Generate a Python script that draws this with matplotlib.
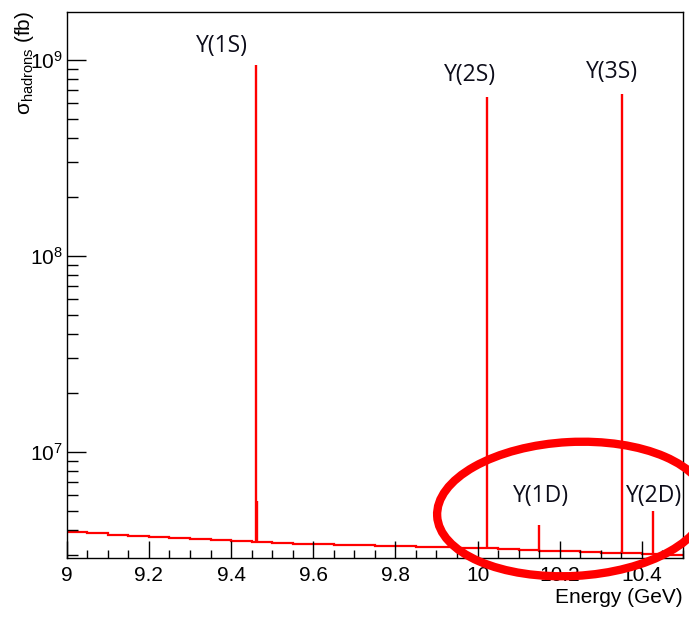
import numpy as np
import matplotlib
matplotlib.use("Agg")
import matplotlib.pyplot as plt
from matplotlib.patches import Ellipse
from matplotlib.ticker import FixedLocator, FixedFormatter, LogLocator, NullFormatter

# Hadronic continuum, binned in energy (GeV); values in fb
bin_edges = np.round(np.arange(9.0, 10.5001, 0.05), 3)
continuum = np.array([3.89, 3.85, 3.79, 3.74, 3.69, 3.64, 3.60, 3.56, 3.52, 3.47,
                      3.43, 3.41, 3.38, 3.36, 3.34, 3.32, 3.30, 3.28, 3.26, 3.25,
                      3.22, 3.19, 3.17, 3.14, 3.11, 3.08, 3.06, 3.04, 3.02, 3.00]) * 1e6

# Bottomonium resonances: mass (GeV) and peak cross section (fb)
res_names = ["Υ(1S)", "Υ(2S)", "Υ(3S)", "Υ(1D)", "Υ(2D)"]
res_mass = [9.460, 10.022, 10.352, 10.150, 10.428]
res_peak = [9.4e8, 6.5e8, 6.7e8, 4.25e6, 5.0e6]
# shoulder next to the Υ(1S) peak bin
shoulder_mass = 9.4625
shoulder_peak = 5.6e6

xticks = [9.0, 9.2, 9.4, 9.6, 9.8, 10.0, 10.2, 10.4]
xtick_labels = ["9", "9.2", "9.4", "9.6", "9.8", "10", "10.2", "10.4"]

W, H = 689, 619
fig = plt.figure(figsize=(W / 100, H / 100), dpi=100)
ax = fig.add_axes([66.7 / W, 1 - 557.7 / H, (683 - 66.7) / W, (557.7 - 11.7) / H])

red = "#ff0000"
ax.stairs(continuum, bin_edges, color=red, lw=1.6, baseline=None)


def base_at(m):
    i = np.searchsorted(bin_edges, m) - 1
    return continuum[i]


for m, p in zip(res_mass, res_peak):
    ax.vlines(m, base_at(m), p, color=red, lw=1.7)
ax.vlines(shoulder_mass, base_at(shoulder_mass), shoulder_peak, color=red, lw=1.7)

ax.set_yscale("log")
ax.set_xlim(9.0, 10.5)
ax.set_ylim(2.89e6, 1.76e9)

ax.xaxis.set_major_locator(FixedLocator(xticks))
ax.xaxis.set_major_formatter(FixedFormatter(xtick_labels))
ax.xaxis.set_minor_locator(FixedLocator(np.round(np.arange(9.0, 10.5001, 0.05), 3)))
ax.yaxis.set_major_locator(LogLocator(base=10, numticks=10))
ax.yaxis.set_minor_locator(LogLocator(base=10, subs=np.arange(2, 10), numticks=20))
ax.yaxis.set_minor_formatter(NullFormatter())

tick_font = "Liberation Sans"
ax.tick_params(axis="both", which="both", direction="in", top=False, right=False,
               color="black", width=1.0)
ax.tick_params(axis="x", which="major", length=12, pad=6)
ax.tick_params(axis="x", which="minor", length=6)
ax.tick_params(axis="y", which="major", length=14, pad=3)
ax.tick_params(axis="y", which="minor", length=8)
ax.yaxis.set_major_formatter(plt.FuncFormatter(lambda v, pos: r"$\mathregular{10^{%d}}$" % round(np.log10(v))))
for lab in ax.get_xticklabels() + ax.get_yticklabels():
    lab.set_fontfamily(tick_font)
    lab.set_fontsize(15)
plt.setp(ax.get_xticklabels(), fontfamily=tick_font, fontsize=15)
plt.setp(ax.get_yticklabels(), fontfamily=tick_font, fontsize=15)

for s in ax.spines.values():
    s.set_linewidth(1.0)
    s.set_color("black")

ax.set_xlabel("Energy (GeV)", fontfamily=tick_font, fontsize=15, loc="right", labelpad=2)
fig.text(24 / W, 1 - 11 / H, r"$\mathregular{\sigma_{hadrons}}$ (fb)", rotation=90,
         ha="center", va="top", fontfamily=tick_font, fontsize=15)

# Resonance labels
label_pos = [(222, 46), (470, 75), (612, 72), (541, 496), (654, 496)]
overlay = fig.add_axes([0, 0, 1, 1], facecolor="none")
overlay.set_xlim(0, W)
overlay.set_ylim(H, 0)
overlay.axis("off")
for name, (px, py) in zip(res_names, label_pos):
    overlay.text(px, py, name, ha="center", va="center", fontfamily="Open Sans",
                 fontsize=16.5, color="#0d0d1a")

# Highlight around the D-wave states
overlay.add_patch(Ellipse((572, 509), 270, 134, angle=-3, fill=False,
                          edgecolor=red, lw=6, clip_on=False))

fig.savefig("out.png", dpi=100)
